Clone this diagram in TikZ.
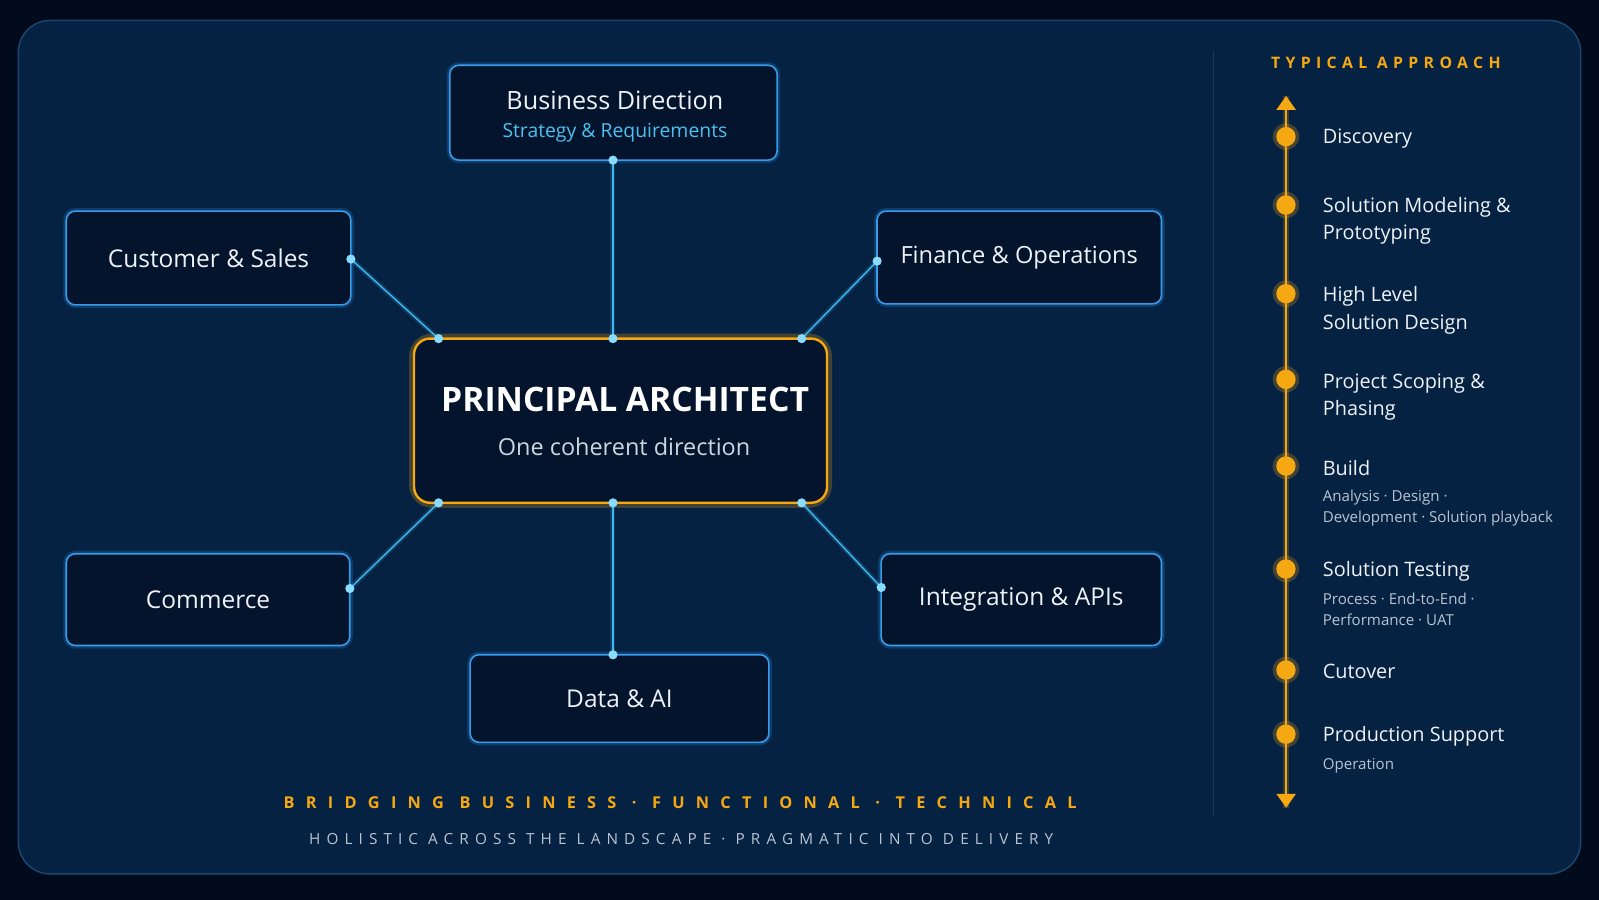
\documentclass[tikz,border=0pt]{standalone}
\usepackage{fontspec}
\setmainfont{Open Sans}
\newfontfamily\spacedB[LetterSpace=69]{Open Sans}
\newfontfamily\spacedT[LetterSpace=34]{Open Sans}
\newfontfamily\spacedS[LetterSpace=40]{Open Sans}
\usetikzlibrary{arrows.meta,positioning,calc}
\definecolor{bgout}{HTML}{020B1B}
\definecolor{panel}{HTML}{062242}
\definecolor{panelline}{HTML}{1E4470}
\definecolor{boxfill}{HTML}{04142C}
\definecolor{boxline}{HTML}{3A9BE6}
\definecolor{glowb}{HTML}{1F6FC0}
\definecolor{cyanl}{HTML}{3FB6EE}
\definecolor{dotc}{HTML}{8ADCFF}
\definecolor{orng}{HTML}{F6A812}
\definecolor{sub}{HTML}{4CC0F0}
\definecolor{txt}{HTML}{EEF2F7}
\definecolor{graytxt}{HTML}{B9C4D2}
\definecolor{sep}{HTML}{17385C}
\tikzset{
  box/.style={draw=boxline, line width=1.6pt, fill=boxfill, rounded corners=9pt,
    text=txt, font=\fontsize{24}{28}\selectfont, align=center, inner sep=0pt},
  glow/.style={draw=glowb, line width=6pt, draw opacity=0.35, rounded corners=9pt},
  conn/.style={draw=cyanl, line width=1.4pt},
  dot/.style={circle, fill=dotc, inner sep=0pt, minimum size=9pt},
  step item/.style={anchor=west, text=txt, font=\fontsize{19.5}{27}\selectfont, align=left, inner sep=0pt},
  stepsub/.style={anchor=west, text=graytxt, font=\fontsize{14.8}{21}\selectfont, align=left, inner sep=0pt},
  odot/.style={circle, fill=orng, inner sep=0pt, minimum size=19pt},
}
\begin{document}
\begin{tikzpicture}[x=1pt,y=-1pt,scale=1.0198,every node/.append style={transform shape}]
\useasboundingbox (0,0) rectangle (1568,882.5);
\fill[bgout] (0,0) rectangle (1568,882.5);
% panel
\draw[panelline, line width=1.5pt, fill=panel, rounded corners=32pt] (18,20) rectangle (1550,857);
\draw[sep, line width=1.2pt] (1190,50) -- (1190,800);

% glows
\foreach \a/\b in {{441,64}/{762,157},{65,207}/{344,299},{860,207}/{1139,298},{65,543}/{343,633},{864,543}/{1139,633},{461,642}/{754,728}}{
  \draw[glow] (\a) rectangle (\b);
}
\draw[draw=orng, line width=10pt, draw opacity=0.25, rounded corners=18pt] (406,332) rectangle (811,493);

% boxes
\node[box, minimum width=321pt, minimum height=93pt] (bd) at (601.5,110.5) {};
\node[text=txt, font=\fontsize{24.7}{28}\selectfont] (bdt) at (603,98) {Business Direction};
\node[text=sub, font=\fontsize{19}{22}\selectfont] (bds) at (603,130) {Strategy \& Requirements};
\node[box, minimum width=279pt, minimum height=92pt] (cs) at (204.5,253) {Customer \& Sales};
\node[box, minimum width=279pt, minimum height=91pt, font=\fontsize{23.2}{28}\selectfont] (fo) at (999.5,252.5) {Finance \& Operations};
\node[box, minimum width=278pt, minimum height=90pt] (co) at (204,588) {Commerce};
\node[box, minimum width=275pt, minimum height=90pt] (ia) at (1001.5,588) {Integration \& APIs};
\node[box, minimum width=293pt, minimum height=86pt] (da) at (607.5,685) {Data \& AI};
\node[draw=orng, line width=2.4pt, fill=boxfill, rounded corners=16pt, minimum width=405pt, minimum height=161pt, inner sep=0pt] (pa) at (608.5,412.5) {};
\node[text=white, font=\bfseries\fontsize{33}{38}\selectfont] (pat) at (613,392) {PRINCIPAL ARCHITECT};
\node[text=graytxt!70!white, font=\fontsize{23}{28}\selectfont] (pas) at (612,438) {One coherent direction};

% connection points
\coordinate (bdS) at (601,157);
\coordinate (paT) at (601,332);
\coordinate (paTL) at (430,332);
\coordinate (paTR) at (786,332);
\coordinate (paB) at (601,493);
\coordinate (paBL) at (430,493);
\coordinate (paBR) at (786,493);
\coordinate (csE) at (344,254);
\coordinate (foW) at (860,256);
\coordinate (coE) at (343,577);
\coordinate (iaW) at (864,576);
\coordinate (daN) at (601,642);

\foreach \p/\q in {bdS/paT, csE/paTL, foW/paTR, coE/paBL, iaW/paBR, daN/paB}{
  \draw[draw=cyanl, line width=5pt, draw opacity=0.18] (\p) -- (\q);
  \draw[conn] (\p) -- (\q);
}
\foreach \p in {bdS,paT,paTL,paTR,paB,paBL,paBR,csE,foW,coE,iaW,daN}{
  \node[dot] at (\p) {};
}

% timeline
\node[text=orng, font=\spacedT\bfseries\fontsize{15.5}{18}\selectfont] (ta) at (1359,62) {TYPICAL APPROACH};
\coordinate (tTop) at (1261,94);
\coordinate (tBot) at (1261,792);
\draw[orng, line width=6pt, draw opacity=0.2] (tTop) -- (tBot);
\draw[orng, line width=2.6pt, {Triangle[width=19pt,length=14pt]}-{Triangle[width=19pt,length=14pt]}] (tTop) -- (tBot);

\foreach \y [count=\i] in {134,201,288,372,457,558,657,720}{
  \node[circle, fill=orng, opacity=0.25, minimum size=26pt, inner sep=0pt] at (1261,\y) {};
  \node[odot] (d\i) at (1261,\y) {};
}
\node[step item] (s1) at (1297,136) {Discovery};
\node[step item, anchor=north west] (s2) at (1297,193) {Solution Modeling \&\\Prototyping};
\node[step item, anchor=north west] (s3) at (1297,281) {High Level\\Solution Design};
\node[step item, anchor=north west] (s4) at (1297,366) {Project Scoping \&\\Phasing};
\node[step item] (s5) at (1297,459) {Build};
\node[stepsub, anchor=north west] (s5b) at (1297,480) {Analysis · Design ·\\Development · Solution playback};
\node[step item] (s6) at (1297,560) {Solution Testing};
\node[stepsub, anchor=north west] (s6b) at (1297,581) {Process · End-to-End ·\\Performance · UAT};
\node[step item] (s7) at (1297,658) {Cutover};
\node[step item] (s8) at (1297,722) {Production Support};
\node[stepsub] (s8b) at (1297,751) {Operation};

% bottom taglines
\node[text=orng, font=\spacedB\bfseries\fontsize{16}{19}\selectfont] (tag1) at (667,787) {BRIDGING BUSINESS · FUNCTIONAL · TECHNICAL};
\node[text=graytxt, font=\spacedS\fontsize{15}{18}\selectfont] (tag2) at (668,823) {HOLISTIC ACROSS THE LANDSCAPE · PRAGMATIC INTO DELIVERY};
\end{tikzpicture}
\end{document}
